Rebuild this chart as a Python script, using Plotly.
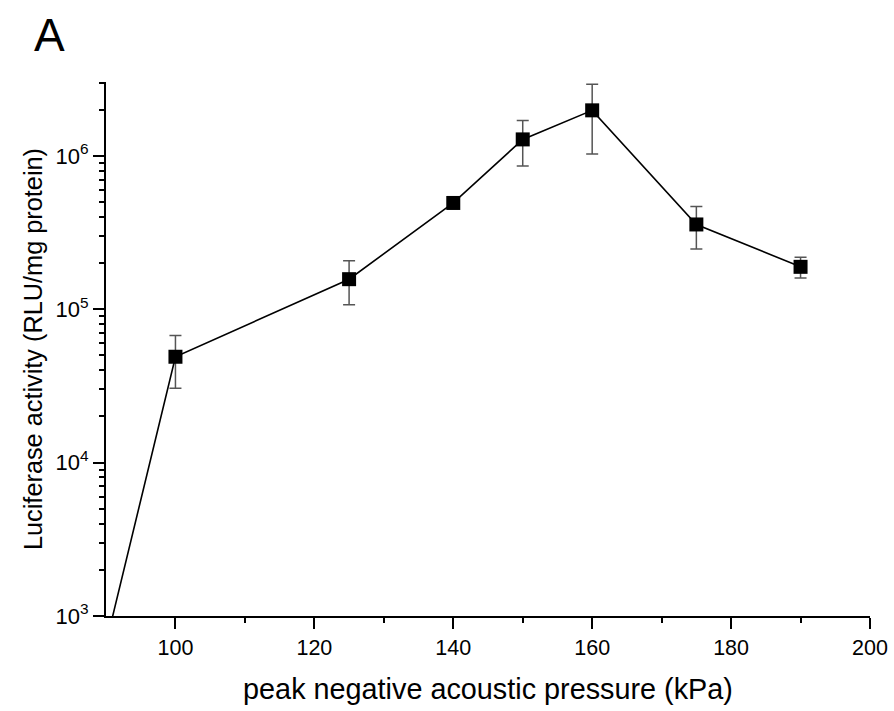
import plotly.graph_objects as go
import math

# Data
pressure_kpa = [90, 100, 125, 140, 150, 160, 175, 190]
luciferase = [660, 4.9e4, 1.57e5, 4.93e5, 1.28e6, 1.98e6, 3.57e5, 1.89e5]
luciferase_err = [0, 1.85e4, 5.0e4, 2.0e4, 4.2e5, 9.5e5, 1.1e5, 2.9e4]

x_major = [100, 120, 140, 160, 180, 200]
x_minor = [110, 130, 150, 170, 190]
y_major = [1e3, 1e4, 1e5, 1e6]
y_major_text = ["10<sup>3</sup>", "10<sup>4</sup>", "10<sup>5</sup>", "10<sup>6</sup>"]
y_minor = [m * 10 ** e for e in [3, 4, 5, 6] for m in range(2, 10) if m * 10 ** e <= 3.03e6]

x_range = [90, 200]
y_range = [3, math.log10(3.03e6)]

FONT = "Liberation Sans, Arial, sans-serif"

fig = go.Figure()
fig.add_trace(go.Scatter(
    x=pressure_kpa, y=luciferase,
    mode="lines+markers",
    line=dict(color="black", width=1.6),
    marker=dict(symbol="square", size=14, color="black"),
    error_y=dict(type="data", array=luciferase_err, visible=True,
                 color="#555555", thickness=1.5, width=6),
    showlegend=False,
))
# dummy trace for minor-tick overlay axes
fig.add_trace(go.Scatter(x=[None], y=[None], xaxis="x2", yaxis="y2",
                         showlegend=False, hoverinfo="skip"))

fig.update_layout(
    template="none",
    width=894, height=711,
    margin=dict(l=106, r=24, t=82, b=95, autoexpand=False),
    paper_bgcolor="white", plot_bgcolor="white",
    font=dict(family=FONT, color="black", size=21),
    xaxis=dict(
        range=x_range, tickvals=x_major, ticks="outside", ticklen=11, tickwidth=2,
        tickcolor="black", automargin=False,
        showline=True, linewidth=2, linecolor="black", showgrid=False, zeroline=False,
        tickfont=dict(size=21.5),
        title=dict(text="peak negative acoustic pressure (kPa)", font=dict(size=28.8), standoff=20),
    ),
    yaxis=dict(
        type="log", range=y_range, tickvals=y_major, ticktext=y_major_text,
        ticks="outside", ticklen=11, tickwidth=2, tickcolor="black", automargin=False,
        showline=True, linewidth=2, linecolor="black", showgrid=False, zeroline=False,
        tickfont=dict(size=22),
        title=dict(text="Luciferase activity (RLU/mg protein)", font=dict(size=25.3), standoff=6),
    ),
    xaxis2=dict(
        range=x_range, overlaying="x", anchor="y", side="bottom", automargin=False,
        tickvals=x_minor, ticks="outside", ticklen=6, tickwidth=2, tickcolor="black",
        showticklabels=False, showline=False, showgrid=False, zeroline=False,
    ),
    yaxis2=dict(
        type="log", range=y_range, overlaying="y", anchor="x", side="left", automargin=False,
        tickvals=y_minor, ticks="outside", ticklen=6, tickwidth=2, tickcolor="black",
        showticklabels=False, showline=False, showgrid=False, zeroline=False,
    ),
    annotations=[dict(
        text="A", xref="paper", yref="paper", x=-0.097, y=1.088,
        xanchor="left", yanchor="middle", showarrow=False,
        font=dict(size=46, family=FONT, color="black"),
    )],
)

fig.write_html(
    "out.html",
    config={"displayModeBar": False},
    post_script="document.body.style.margin='0';document.body.style.padding='0';",
)
